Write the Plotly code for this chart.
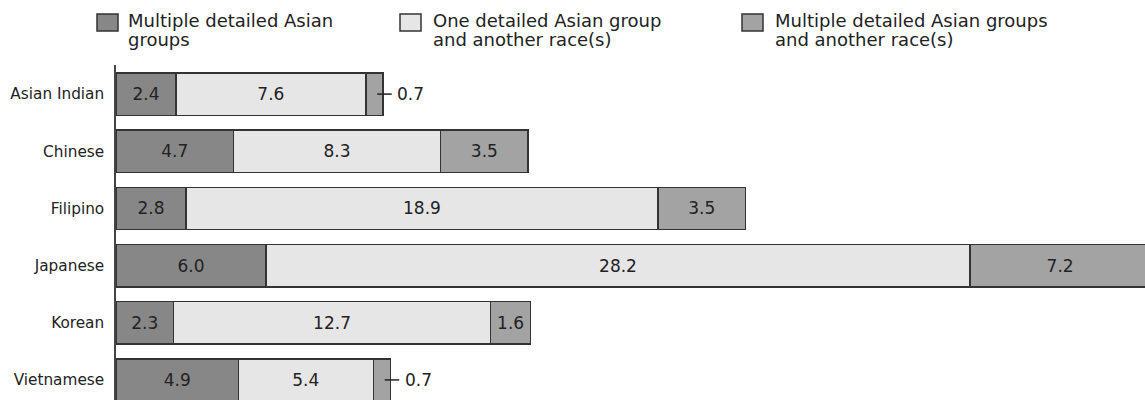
import plotly.graph_objects as go

# Detailed Asian groups and their multiple-group / multiracial shares (percent)
groups = ["Asian Indian", "Chinese", "Filipino", "Japanese", "Korean", "Vietnamese"]
multi_asian = [2.4, 4.7, 2.8, 6.0, 2.3, 4.9]
one_asian_other_race = [7.6, 8.3, 18.9, 28.2, 12.7, 5.4]
multi_asian_other_race = [0.7, 3.5, 3.5, 7.2, 1.6, 0.7]

series_names = [
    ["Multiple detailed Asian", "groups"],
    ["One detailed Asian group", "and another race(s)"],
    ["Multiple detailed Asian groups", "and another race(s)"],
]
series_values = [multi_asian, one_asian_other_race, multi_asian_other_race]
colors = ["#878787", "#e6e6e6", "#a3a3a3"]

FONT = "DejaVu Sans"
TEXT = "#222222"
OUTLINE = "#333333"
SMALL = 1.0  # segments narrower than this get an outside callout

# Plot-area geometry (pixels) used to place the hand-built legend
W, H = 1145, 400
L, T = 116, 65
PW, PH = W - L, H - T


def px_x(p):
    return (p - L) / PW


def px_y(p):
    return (H - p) / PH


fig = go.Figure()
for name, vals, col in zip(series_names, series_values, colors):
    fig.add_trace(go.Bar(
        y=groups,
        x=vals,
        orientation="h",
        name=" ".join(name),
        marker=dict(color=col, line=dict(color=OUTLINE, width=1.5)),
        text=[f"{v:.1f}" if v >= SMALL else "" for v in vals],
        textposition="inside",
        insidetextanchor="middle",
        textangle=0,
        constraintext="none",
        textfont=dict(family=FONT, size=17, color=TEXT),
        hoverinfo="skip",
        showlegend=False,
    ))

shapes = []
annotations = []

# Callouts for the thin last segments
for i, g in enumerate(groups):
    last = multi_asian_other_race[i]
    if last < SMALL:
        end = multi_asian[i] + one_asian_other_race[i] + last
        shapes.append(dict(
            type="line", xref="x", yref="y", xsizemode="pixel", xanchor=end,
            x0=-6, x1=8.5, y0=i, y1=i,
            line=dict(color=TEXT, width=1.5),
        ))
        annotations.append(dict(
            x=end, y=g, xref="x", yref="y", text=f"{last:.1f}",
            showarrow=False, xanchor="left", yanchor="middle", xshift=12,
            font=dict(family=FONT, size=17, color=TEXT),
        ))

# Legend: swatch + two-line label for each series
legend_swatch_x = [97, 400, 742]
legend_text_x = [126, 431, 773]
legend_line_y = [20.5, 39.5]
for name, col, sx, tx in zip(series_names, colors, legend_swatch_x, legend_text_x):
    shapes.append(dict(
        type="rect", xref="paper", yref="paper",
        x0=px_x(sx), x1=px_x(sx + 21), y0=px_y(31), y1=px_y(14),
        fillcolor=col, line=dict(color=OUTLINE, width=1.5),
    ))
    for line_text, ly in zip(name, legend_line_y):
        annotations.append(dict(
            x=px_x(tx), y=px_y(ly), xref="paper", yref="paper", text=line_text,
            showarrow=False, xanchor="left", yanchor="middle", align="left",
            font=dict(family=FONT, size=18, color=TEXT),
        ))

fig.update_layout(
    width=W, height=H,
    margin=dict(l=L, r=0, t=T, b=0, pad=0),
    barmode="stack",
    bargap=0.26,
    paper_bgcolor="white",
    plot_bgcolor="white",
    shapes=shapes,
    annotations=annotations,
    xaxis=dict(range=[0, 41.2], visible=False, fixedrange=True),
    yaxis=dict(
        type="category",
        categoryorder="array",
        categoryarray=groups,
        range=[5.351, -0.509],
        showline=True, linecolor="#444444", linewidth=1.5,
        showgrid=False, zeroline=False, ticks="",
        ticklabelstandoff=7,
        tickfont=dict(family=FONT, size=15.3, color=TEXT),
        fixedrange=True,
    ),
)

fig.write_html("out.html")
